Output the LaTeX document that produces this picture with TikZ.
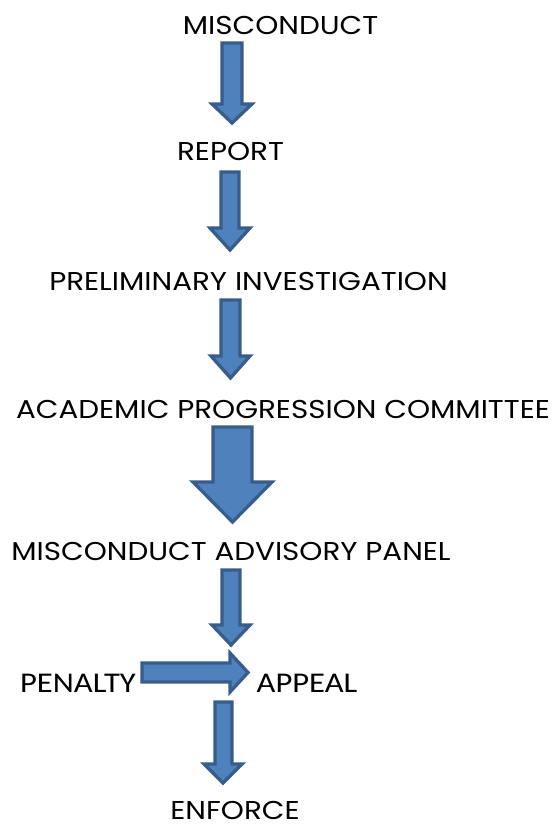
\documentclass[tikz,border=0pt]{standalone}
\usepackage{fontspec}
\setmainfont{Poppins}[FakeStretch=1.14]
\newfontfamily\sidefont{Carlito}[FakeStretch=1.14]
\usepackage{tikz}

\definecolor{arrowfill}{HTML}{4F81BD}
\definecolor{arrowline}{HTML}{385D8A}

\begin{document}
\begin{tikzpicture}[x=0.03cm,y=-0.03cm,line width=2.8pt,font=\fontsize{22}{26}\selectfont,
  blockarrow/.style={fill=arrowfill,draw=arrowline,line join=miter},
  lbl/.style={inner sep=0pt,anchor=base},
  sidelbl/.style={lbl,font=\sidefont\fontsize{24.4}{28}\selectfont}]
\useasboundingbox (0,0) rectangle (552,825);
% labels
\node[lbl] (misconduct) at (280.5,35) {MISCONDUCT};
\node[lbl] (report) at (230.5,161) {REPORT};
\node[lbl] (prelim) at (248.5,290) {PRELIMINARY INVESTIGATION};
\node[lbl] (apc) at (283,418) {ACADEMIC PROGRESSION COMMITTEE};
\node[lbl] (map) at (231,560) {MISCONDUCT ADVISORY PANEL};
\node[sidelbl] (penalty) at (78,692) {PENALTY};
\node[sidelbl] (appeal) at (307,692) {APPEAL};
\node[lbl] (enforce) at (235,819) {ENFORCE};
% block arrows
\draw[blockarrow] (222,43)--(242,43)--(242,104)--(252,104)--(232,123)--(212,104)--(222,104)--cycle;
\draw[blockarrow] (221,172)--(239,172)--(239,228)--(250,228)--(230,250)--(210,228)--(221,228)--cycle;
\draw[blockarrow] (221,300)--(240,300)--(240,356)--(250,356)--(230.5,378)--(211,356)--(221,356)--cycle;
\draw[blockarrow] (213,427)--(252,427)--(252,482)--(272,482)--(232.5,522)--(193,482)--(213,482)--cycle;
\draw[blockarrow] (222,570)--(240,570)--(240,625)--(250,625)--(231,645)--(212,625)--(222,625)--cycle;
\draw[blockarrow] (142,663)--(230,663)--(230,653)--(248,672.5)--(230,692)--(230,682)--(142,682)--cycle;
\draw[blockarrow] (215,702)--(232,702)--(232,764)--(242,764)--(223,783)--(204,764)--(215,764)--cycle;
\end{tikzpicture}
\end{document}
